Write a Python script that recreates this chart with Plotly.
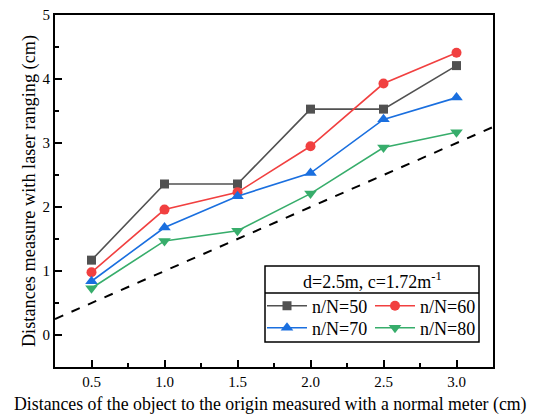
import plotly.graph_objects as go

x_vals = [0.5, 1.0, 1.5, 2.0, 2.5, 3.0]
series_names = ["n/N=50", "n/N=60", "n/N=70", "n/N=80"]
y_50 = [1.17, 2.36, 2.36, 3.53, 3.53, 4.21]
y_60 = [0.98, 1.96, 2.23, 2.95, 3.93, 4.41]
y_70 = [0.84, 1.68, 2.17, 2.53, 3.37, 3.71]
y_80 = [0.73, 1.47, 1.63, 2.21, 2.93, 3.17]
ref_x = [0.25, 3.25]
ref_y = [0.25, 3.25]
legend_title = "d=2.5m, c=1.72m<sup>-1</sup>"
x_title = "Distances of the object to the origin measured with a normal meter (cm)"
y_title = "Distances measure with laser ranging (cm)"

colors = ["#515151", "#F14040", "#1A6FDF", "#37AD6B"]
symbols = ["square", "circle", "triangle-up", "triangle-down"]
sizes = [9, 10, 11, 11]
legend_ids = ["legend", "legend", "legend2", "legend2"]

FONT = "Liberation Serif"

# page body has an 8px margin: work in screenshot pixels and shift
OFF = 8
W, H = 537 - OFF, 416 - OFF
L, T, R, B = 55 - OFF, 15 - OFF, 493 - OFF, 367 - OFF
pw, ph = R - L, B - T
def px(xp): return (xp - OFF - L) / pw
def py(yp): return 1 - (yp - OFF - T) / ph

fig = go.Figure()
fig.add_trace(go.Scatter(x=ref_x, y=ref_y, mode="lines", showlegend=False,
                         line=dict(color="black", width=2, dash="dash")))
for name, ys, c, s, sz, lg in zip(series_names, [y_50, y_60, y_70, y_80], colors, symbols, sizes, legend_ids):
    fig.add_trace(go.Scatter(x=x_vals, y=ys, mode="lines+markers", name=name, legend=lg,
                             line=dict(color=c, width=1.6),
                             marker=dict(color=c, symbol=s, size=sz)))

def leg(yc):
    return dict(x=px(262), y=py(yc), xanchor="left", yanchor="middle",
                orientation="h", entrywidth=53, entrywidthmode="pixels",
                itemwidth=40, tracegroupgap=0,
                bgcolor="rgba(0,0,0,0)", borderwidth=0,
                font=dict(family=FONT, size=18, color="black"))

def axis(**kw):
    d = dict(automargin=False, showline=True, linecolor="black", linewidth=2, mirror=True,
             ticks="inside", ticklen=7, tickwidth=2, tickcolor="black",
             ticklabeloverflow="allow",
             showgrid=False, zeroline=False,
             tickfont=dict(family=FONT, size=15, color="black"))
    d.update(kw)
    return d

fig.update_layout(
    width=W, height=H,
    margin=dict(l=L, r=W - R, t=T, b=H - B, autoexpand=False),
    paper_bgcolor="white", plot_bgcolor="white",
    font=dict(family=FONT, color="black", size=15),
    legend=leg(306),
    legend2=leg(328),
    xaxis=axis(range=[0.25, 3.25], tick0=0.5, dtick=0.5, tickformat=".1f",
               minor=dict(ticks="inside", ticklen=4, tickwidth=1.5, tickcolor="black", dtick=0.25, tick0=0.25)),
    yaxis=axis(range=[-0.5, 5.001], tick0=0, dtick=1,
               minor=dict(ticks="inside", ticklen=4, tickwidth=1.5, tickcolor="black", dtick=0.5, tick0=0.5),
               title=dict(text=y_title,
                          font=dict(family=FONT, size=18.3, color="black"), standoff=2)),
    shapes=[
        dict(type="rect", xref="paper", yref="paper",
             x0=px(265), x1=px(479), y0=py(266), y1=py(342),
             line=dict(color="black", width=1.5), fillcolor="rgba(0,0,0,0)"),
        dict(type="line", xref="paper", yref="paper",
             x0=px(265), x1=px(479), y0=py(293), y1=py(293),
             line=dict(color="black", width=1.5)),
    ],
    annotations=[
        dict(text=legend_title, xref="paper", yref="paper",
             x=px(372), y=py(280), xanchor="center", yanchor="middle",
             showarrow=False, font=dict(family=FONT, size=18, color="black")),
        dict(text=x_title, xref="paper", yref="paper",
             x=px(270.5), y=py(404), xanchor="center", yanchor="middle",
             showarrow=False, font=dict(family=FONT, size=17.8, color="black")),
    ],
)

fig.write_html("out.html")
